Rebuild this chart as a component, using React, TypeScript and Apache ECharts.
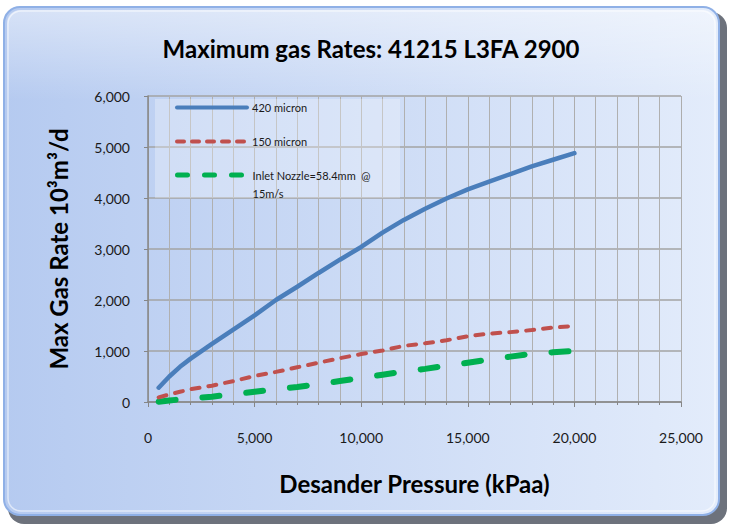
import React, { useEffect, useRef } from "react";
import * as echarts from "echarts";

const TITLE = "Maximum gas Rates: 41215 L3FA 2900";
const X_NAME = "Desander Pressure (kPaa)";
const Y_NAME = "Max Gas Rate 10³m³/d";

const pressure = [500, 1000, 1500, 2000, 3000, 4000, 5000, 6000, 7000, 8000, 9000, 10000, 11000, 12000, 13000, 14000, 15000, 16000, 17000, 18000, 19000, 20000];
const micron420 = [280, 500, 690, 850, 1140, 1420, 1700, 2000, 2260, 2530, 2790, 3040, 3320, 3570, 3790, 3990, 4170, 4320, 4470, 4620, 4750, 4880];
const micron150 = [90, 150, 200, 250, 320, 410, 510, 590, 680, 770, 860, 940, 1010, 1100, 1150, 1210, 1290, 1340, 1370, 1410, 1460, 1490];
const inletNozzle = [5, 30, 50, 70, 105, 150, 200, 250, 295, 350, 410, 470, 535, 595, 650, 710, 770, 830, 890, 945, 975, 1000];

const seriesNames = ["420 micron", "150 micron", "Inlet Nozzle=58.4mm  @ 15m/s"];
const seriesColors = ["#4a7ebb", "#c0504d", "#00b050"];

const FONT = "Lato, 'Open Sans', sans-serif";

function pairs(ys: number[]) {
  return pressure.map((x, i) => [x, ys[i]]);
}

export default function App() {
  const ref = useRef<HTMLDivElement>(null);
  useEffect(() => {
    if (!ref.current) return;
    const chart = echarts.init(ref.current, undefined, { renderer: "svg" });
    const legendBase = {
      orient: "vertical" as const,
      left: 175,
      padding: 0,
      itemWidth: 70,
      itemHeight: 14,
      itemGap: 0,
      selectedMode: false,
      itemStyle: { opacity: 0, borderWidth: 0 },
      textStyle: { fontFamily: FONT, fontSize: 11, color: "#1a1a1a" },
    };
    chart.setOption({
      animation: false,
      backgroundColor: "#ffffff",
      graphic: [
        {
          type: "rect",
          z: -10,
          silent: true,
          shape: { x: 8, y: 12, width: 719, height: 512, r: 16 },
          style: { fill: "#6d727c" },
        },
        {
          type: "rect",
          z: -9,
          silent: true,
          shape: { x: 4, y: 7, width: 715, height: 508, r: 16 },
          style: {
            fill: {
              type: "linear",
              x: 0, y: 0, x2: 1, y2: 0,
              colorStops: [
                { offset: 0, color: "#b5caf0" },
                { offset: 1, color: "#e3ecfb" },
              ],
            },
            stroke: "#8fb0e6",
            lineWidth: 2,
          },
        },
        {
          type: "rect",
          z: -8,
          silent: true,
          shape: { x: 7, y: 10, width: 709, height: 90, r: [13, 13, 0, 0] },
          style: {
            fill: {
              type: "linear",
              x: 0, y: 0, x2: 0, y2: 1,
              colorStops: [
                { offset: 0, color: "rgba(255,255,255,0.45)" },
                { offset: 1, color: "rgba(255,255,255,0)" },
              ],
            },
          },
        },
        {
          type: "rect",
          z: -7,
          silent: true,
          shape: { x: 8, y: 11, width: 707, height: 500, r: 13 },
          style: { fill: "none", stroke: "rgba(255,255,255,0.55)", lineWidth: 1.5 },
        },
        {
          type: "rect",
          z: 1,
          silent: true,
          shape: { x: 155, y: 99, width: 245, height: 99 },
          style: { fill: "rgba(255,255,255,0.28)" },
        },
      ],
      title: {
        text: TITLE,
        left: 366,
        top: 31,
        textAlign: "center",
        textStyle: { fontFamily: FONT, fontSize: 24, fontWeight: "bold", color: "#000" },
      },
      legend: [
        {
          ...legendBase,
          top: 102,
          data: [seriesNames[0]],
          lineStyle: { width: 4, cap: "round" },
        },
        {
          ...legendBase,
          top: 136,
          data: [seriesNames[1]],
          lineStyle: { width: 4, type: [7, 8], cap: "round" },
        },
        {
          ...legendBase,
          top: 148,
          data: [seriesNames[2]],
          formatter: () => "\nInlet Nozzle=58.4mm  @\n15m/s",
          textStyle: { ...legendBase.textStyle, lineHeight: 18 },
          lineStyle: { width: 5, type: [10, 17], cap: "round" },
        },
      ],
      grid: { left: 148, top: 96, right: 50, bottom: 125, containLabel: false },
      xAxis: {
        type: "value",
        min: 0,
        max: 25000,
        interval: 5000,
        name: X_NAME,
        nameLocation: "middle",
        nameGap: 69,
        nameTextStyle: { fontFamily: FONT, fontSize: 24, fontWeight: "bold", color: "#000" },
        axisLine: { show: true, lineStyle: { color: "#868686", width: 1.5 } },
        axisTick: { show: true, length: 5, lineStyle: { color: "#868686" } },
        minorTick: { show: true, splitNumber: 5, length: 3, lineStyle: { color: "#868686" } },
        splitLine: { show: true, lineStyle: { color: "#adadad", width: 1 } },
        minorSplitLine: { show: true, lineStyle: { color: "#b0b0b0", width: 1 } },
        axisLabel: {
          margin: 28,
          fontFamily: FONT,
          fontSize: 14,
          color: "#1a1a1a",
          formatter: (v: number) => v.toLocaleString("en-US"),
        },
      },
      yAxis: {
        type: "value",
        min: 0,
        max: 6000,
        interval: 1000,
        name: Y_NAME,
        nameLocation: "middle",
        nameGap: 78,
        nameRotate: 90,
        nameTextStyle: { fontFamily: FONT, fontSize: 24, fontWeight: "bold", color: "#000" },
        axisLine: { show: true, lineStyle: { color: "#868686", width: 1.5 } },
        axisTick: { show: true, length: 4, lineStyle: { color: "#868686" } },
        splitLine: { show: true, lineStyle: { color: "#a3a3a3", width: 1.5 } },
        axisLabel: {
          margin: 18,
          fontFamily: FONT,
          fontSize: 14,
          color: "#1a1a1a",
          formatter: (v: number) => v.toLocaleString("en-US"),
        },
      },
      series: [
        {
          name: seriesNames[0],
          type: "line",
          data: pairs(micron420),
          symbol: "none",
          z: 5,
          color: seriesColors[0],
          lineStyle: { color: seriesColors[0], width: 4.5, cap: "round" },
        },
        {
          name: seriesNames[1],
          type: "line",
          data: pairs(micron150),
          symbol: "none",
          z: 4,
          color: seriesColors[1],
          lineStyle: { color: seriesColors[1], width: 4, type: [8, 9], cap: "round" },
        },
        {
          name: seriesNames[2],
          type: "line",
          data: pairs(inletNozzle),
          symbol: "none",
          z: 3,
          color: seriesColors[2],
          lineStyle: { color: seriesColors[2], width: 6, type: [17, 27], cap: "round" },
        },
      ],
    });
    return () => chart.dispose();
  }, []);
  return (
    <div
      ref={ref}
      style={{ position: "absolute", left: 0, top: 0, width: 731, height: 527 }}
    />
  );
}
